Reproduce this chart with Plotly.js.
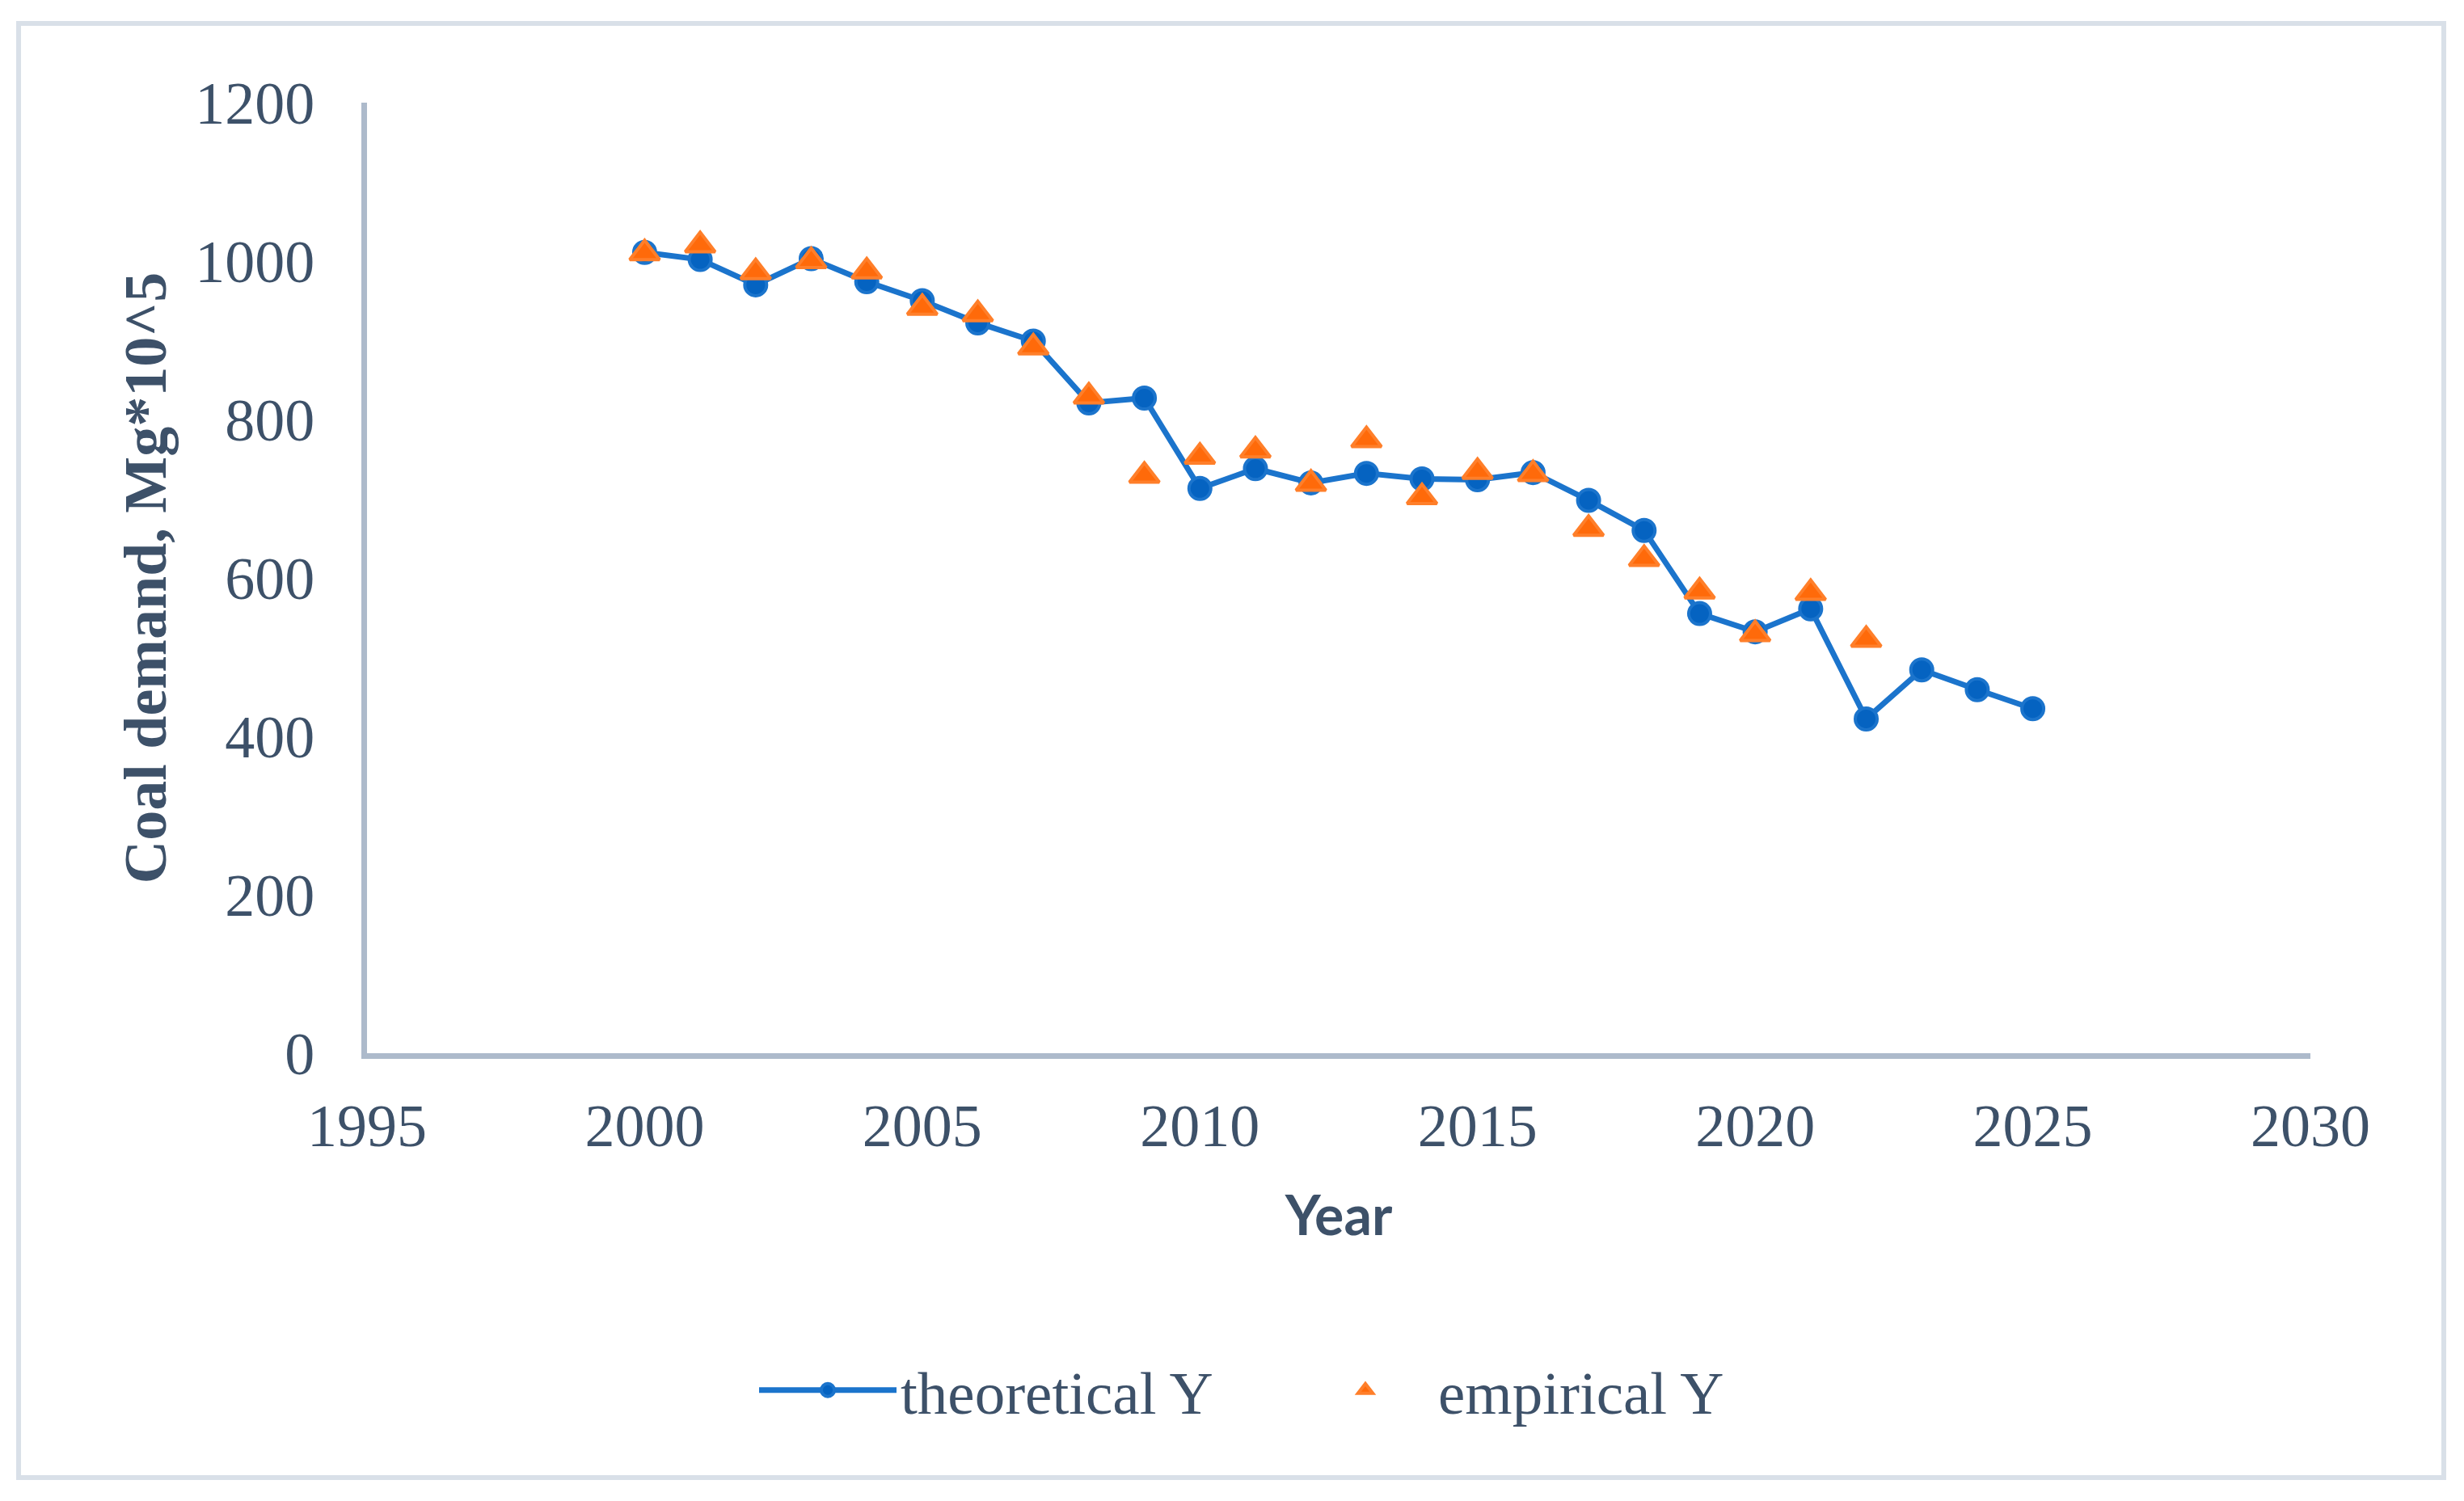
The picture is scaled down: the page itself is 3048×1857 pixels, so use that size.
<!DOCTYPE html>
<html>
<head>
<meta charset="utf-8">
<script src="https://cdn.plot.ly/plotly-3.0.1.min.js"></script>
<style>
  html, body { margin: 0; padding: 0; background: #ffffff; }
  #chart { width: 3048px; height: 1857px; }
</style>
</head>
<body>
<div id="chart"></div>
<script>
// ---- data ----
const years = [2000, 2001, 2002, 2003, 2004, 2005, 2006, 2007, 2008, 2009, 2010, 2011, 2012,
               2013, 2014, 2015, 2016, 2017, 2018, 2019, 2020, 2021, 2022, 2023, 2024, 2025];
const theoreticalY = [1011, 1002, 970, 1003, 974, 950, 922, 899, 821, 827, 713, 738, 720,
                      732, 725, 724, 733, 698, 660, 555, 532, 561, 422, 484, 459, 435];
const empiricalYears = [2000, 2001, 2002, 2003, 2004, 2005, 2006, 2007, 2008, 2009, 2010, 2011,
                        2012, 2013, 2014, 2015, 2016, 2017, 2018, 2019, 2020, 2021, 2022];
const empiricalY = [1010, 1020, 986, 1000, 987, 941, 933, 891, 829, 729, 753, 761,
                    719, 774, 702, 734, 731, 662, 624, 583, 529, 581, 522];
const seriesNames = ["theoretical Y", "empirical Y"];
const xTitle = "Year";
const yTitle = "Coal demand, Mg*10^5";

// ---- styles ----
const textColor = "#3D5169";
const axisColor = "#ADBACB";

const traces = [
  {
    x: years, y: theoreticalY, name: seriesNames[0], type: "scatter", mode: "lines+markers",
    line: { color: "#1B74CC", width: 7 },
    marker: { symbol: "circle", size: 27, color: "#0563C1", line: { color: "#1B74CC", width: 4 } }
  },
  {
    x: empiricalYears, y: empiricalY, name: seriesNames[1], type: "scatter", mode: "markers",
    marker: { symbol: "triangle-up", size: 32, color: "#FF6A0A", line: { color: "#FF7F2A", width: 4 } }
  }
];

const W = 3048, H = 1857;
const mL = 454, mR = W - 2858, mT = 127, mB = H - 1303;
const pw = W - mL - mR, ph = H - mT - mB;
function px2x(p) { return (p - mL) / pw; }
function px2y(p) { return (H - mB - p) / ph; }

const layout = {
  width: W, height: H,
  margin: { l: mL, r: mR, t: mT, b: mB, pad: 0 },
  paper_bgcolor: "#ffffff", plot_bgcolor: "#ffffff",
  showlegend: true,
  xaxis: {
    range: [1995, 2030], tick0: 1995, dtick: 5, showgrid: false, zeroline: false,
    showline: true, linecolor: axisColor, linewidth: 7, ticks: "",
    ticklabelstandoff: 19,
    tickfont: { family: "Liberation Serif", size: 74, color: textColor },
    title: { text: xTitle, standoff: 50, font: { family: "Lato", size: 68, color: textColor, weight: "bold" } }
  },
  yaxis: {
    range: [0, 1200], tick0: 0, dtick: 200, showgrid: false, zeroline: false,
    showline: true, linecolor: axisColor, linewidth: 7, ticks: "",
    ticklabelstandoff: 43,
    tickfont: { family: "Liberation Serif", size: 74, color: textColor },
    title: { text: yTitle, standoff: 14, font: { family: "Liberation Serif", size: 74, color: textColor, weight: "bold" } }
  },
  legend: {
    orientation: "h", x: px2x(934), xanchor: "left", y: px2y(1720), yanchor: "middle",
    font: { family: "Liberation Serif", size: 75, color: textColor },
    itemwidth: 170, entrywidth: 480, entrywidthmode: "pixels", traceorder: "normal"
  },
  shapes: [
    { type: "rect", xref: "paper", yref: "paper",
      x0: px2x(23), x1: px2x(3023), y0: px2y(29), y1: px2y(1828),
      line: { color: "#D9E0E8", width: 6 }, fillcolor: "rgba(0,0,0,0)", layer: "below" }
  ]
};

Plotly.newPlot("chart", traces, layout, { displayModeBar: false, staticPlot: true });
</script>
</body>
</html>
